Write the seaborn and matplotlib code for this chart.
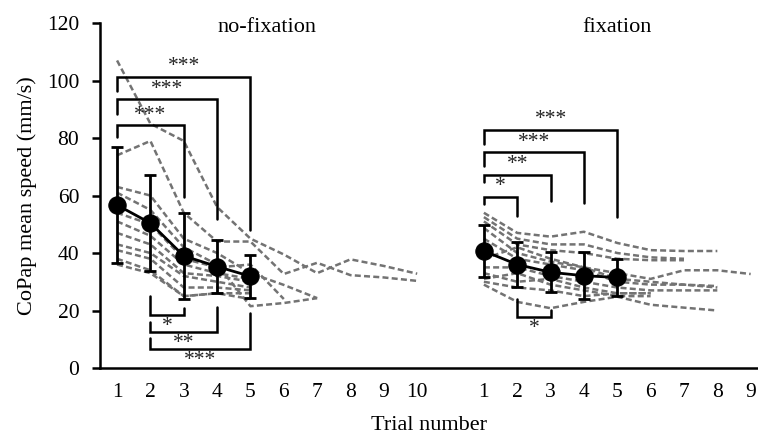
import numpy as np
import pandas as pd
import matplotlib
matplotlib.use("Agg")
import matplotlib.pyplot as plt
import seaborn as sns

nan = np.nan

# ---------------- data ----------------
conditions = ["no-fixation", "fixation"]
trials_nofix = list(range(1, 11))
trials_fix = list(range(1, 10))
fix_offset = 11  # gap between the two conditions on the shared x axis

nofix_subjects = [
    [107, 85, 79, 56, 45, 39.5, 33, 37.8, 35.5, 32.8],
    [74, 79, 54, 44, 44, 32.7, 36.6, 32.3, 31.5, 30.3],
    [63, 60, 45, 40, 33, 28.9, 24.3, nan, nan, nan],
    [61, 55, 42, 36, 21.5, 22.6, 24.3, nan, nan, nan],
    [54, 50, 38, 35, 36, 24, nan, nan, nan, nan],
    [51, 46, 36, 33, 31, nan, nan, nan, nan, nan],
    [47, 43, 33, 32, 30, nan, nan, nan, nan, nan],
    [43, 40, 32, 30, 28, nan, nan, nan, nan, nan],
    [41, 38, 28, 28, 27, nan, nan, nan, nan, nan],
    [38, 34, 25, 26, 26, nan, nan, nan, nan, nan],
    [36, 33, 25, 26, 24, nan, nan, nan, nan, nan],
]
fix_subjects = [
    [54, 47, 45.7, 47.4, 43.5, 41, 40.7, 40.7, nan],
    [52.5, 45, 43, 43, 40, 38.5, 38, nan, nan],
    [51, 43, 41, 40, 38, 37.5, 37.5, nan, nan],
    [48.7, 40, 37, 35, 33, 31, 34, 34, 32.7],
    [45, 38, 36, 34, 30, 29, 29, 28, nan],
    [38, 42, 38, 35, 31, 30, 29, 28.5, nan],
    [35, 35, 32, 30, 28, 27, 27, 27, nan],
    [33, 30, 31, 28, 26, 26, nan, nan, nan],
    [31, 33, 29, 27, 25, 25, nan, nan, nan],
    [30, 28, 27, 25, 26, 26, nan, nan, nan],
    [29, 23, 20.8, 23, 24.8, 22, 21, 20, nan],
]

mean_trials = [1, 2, 3, 4, 5]
nofix_mean = [56.7, 50.4, 39.0, 35.3, 31.9]
nofix_sd = [20.3, 16.6, 15.1, 9.3, 7.4]
fix_mean = [40.7, 36.0, 33.3, 32.1, 31.5]
fix_sd = [8.9, 7.7, 6.9, 8.1, 6.3]

# significance brackets: (condition, trial_a, trial_b, bar_y, leg_a_end, leg_b_end, label)
brackets = [
    ("no-fixation", 1, 5, 101.4, 96.5, 48.0, "***"),
    ("no-fixation", 1, 4, 93.5, 88.5, 52.0, "***"),
    ("no-fixation", 1, 3, 84.5, 80.5, 59.6, "***"),
    ("no-fixation", 2, 3, 18.4, 25.0, 21.0, "*"),
    ("no-fixation", 2, 4, 12.4, 16.1, 21.3, "**"),
    ("no-fixation", 2, 5, 6.6, 10.4, 19.0, "***"),
    ("fixation", 1, 5, 82.8, 78.0, 52.6, "***"),
    ("fixation", 1, 4, 75.0, 70.4, 57.5, "***"),
    ("fixation", 1, 3, 67.2, 64.6, 58.0, "**"),
    ("fixation", 1, 2, 59.6, 57.0, 52.9, "*"),
    ("fixation", 2, 3, 17.6, 23.9, 20.2, "*"),
]

y_ticks = [0, 20, 40, 60, 80, 100, 120]
x_label = "Trial number"
y_label = "CoPap mean speed (mm/s)"

# ---------------- build frames ----------------
def pos(cond, t):
    return t if cond == "no-fixation" else t + fix_offset

rows = []
for i, s in enumerate(nofix_subjects):
    for t, v in zip(trials_nofix, s):
        rows.append(dict(cond="no-fixation", subject=f"N{i}", pos=pos("no-fixation", t), speed=v))
for i, s in enumerate(fix_subjects):
    for t, v in zip(trials_fix, s):
        rows.append(dict(cond="fixation", subject=f"F{i}", pos=pos("fixation", t), speed=v))
subj_df = pd.DataFrame(rows).dropna()

mrows = []
for t, m, sd in zip(mean_trials, nofix_mean, nofix_sd):
    mrows.append(dict(cond="no-fixation", pos=pos("no-fixation", t), mean=m, sd=sd))
for t, m, sd in zip(mean_trials, fix_mean, fix_sd):
    mrows.append(dict(cond="fixation", pos=pos("fixation", t), mean=m, sd=sd))
mean_df = pd.DataFrame(mrows)

# ---------------- plot ----------------
sns.set_theme(style="ticks")
plt.rcParams["font.family"] = ["Liberation Serif", "DejaVu Serif"]
for k in ["text.color", "axes.labelcolor", "xtick.color", "ytick.color", "axes.edgecolor"]:
    plt.rcParams[k] = "black"

fig = plt.figure(figsize=(7.58, 4.36), dpi=100)
ax = fig.add_axes([0.132, 0.156, 0.868, 0.791])

sns.lineplot(data=subj_df, x="pos", y="speed", units="subject", estimator=None,
             color="#737373", linestyle=(0, (2.4, 1.3)), linewidth=1.8,
             sort=True, ax=ax, legend=False, zorder=2)

ax.errorbar(mean_df["pos"], mean_df["mean"], yerr=mean_df["sd"], fmt="none",
            ecolor="black", elinewidth=2.0, capsize=4, capthick=2.0, zorder=4)
sns.lineplot(data=mean_df, x="pos", y="mean", units="cond", estimator=None,
             color="black", linewidth=2.0, marker="o", markersize=12.5,
             markeredgecolor="black", ax=ax, legend=False, zorder=5)

# brackets
for cond, a, b, yb, ya, yb2, lab in brackets:
    xa, xb = pos(cond, a), pos(cond, b)
    ax.plot([xa, xa, xb, xb], [ya, yb, yb, yb2], color="black", lw=1.8,
            solid_joinstyle="miter", zorder=3)
    xm = (xa + xb) / 2
    if yb > min(ya, yb2):  # bracket opens downward -> label above
        ax.text(xm, yb + 0.2, lab, ha="center", va="bottom", fontsize=15.5, color="#222222")
    else:
        ax.text(xm, yb - 0.6, lab, ha="center", va="top", fontsize=15.5, color="#222222")

# condition titles
ax.text(5.5, 118.5, conditions[0], ha="center", va="center", fontsize=16)
ax.text(16.0, 118.5, conditions[1], ha="center", va="center", fontsize=16)

xticks = [pos("no-fixation", t) for t in trials_nofix] + [pos("fixation", t) for t in trials_fix]
xticklabels = [str(t) for t in trials_nofix] + [str(t) for t in trials_fix]
ax.set_xticks(xticks)
ax.set_xticklabels(xticklabels)
ax.set_yticks(y_ticks)
ax.set_xlim(0.49, 20.22)
ax.set_ylim(0, 120)
ax.tick_params(axis="x", length=0, pad=11, labelsize=15.5)
ax.tick_params(axis="y", length=6, width=1.8, pad=9, labelsize=15.5, direction="out")
ax.set_xlabel(x_label, fontsize=16, labelpad=10)
ax.set_ylabel(y_label, fontsize=16, labelpad=7)
for side in ["top", "right"]:
    ax.spines[side].set_visible(False)
for side in ["left", "bottom"]:
    ax.spines[side].set_linewidth(1.8)
    ax.spines[side].set_color("black")

fig.savefig("out.png", dpi=100)
